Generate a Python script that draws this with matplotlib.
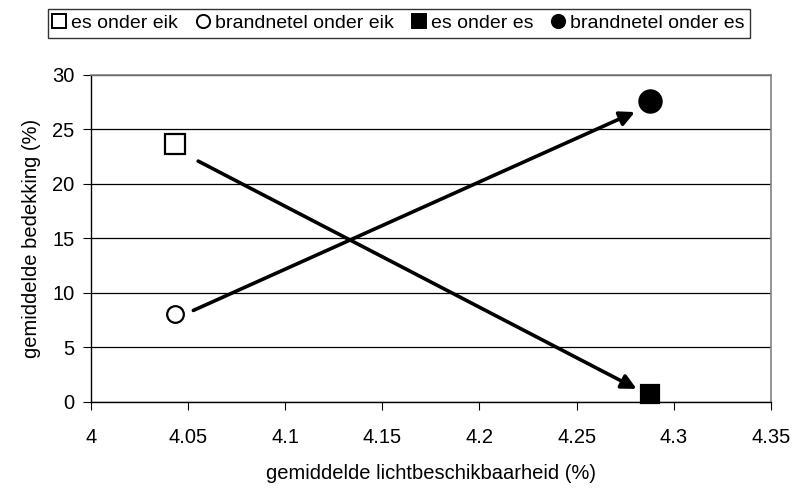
import matplotlib
matplotlib.use("Agg")
import matplotlib.pyplot as plt
from matplotlib.lines import Line2D
from matplotlib.ticker import FuncFormatter, MultipleLocator

plt.rcParams["font.family"] = ["Liberation Sans", "DejaVu Sans"]

# values
series_names = ["es onder eik", "brandnetel onder eik", "es onder es", "brandnetel onder es"]
light = [4.043, 4.043, 4.288, 4.288]
cover = [23.7, 8.1, 0.7, 27.6]
markers = ["s", "o", "s", "o"]
filled = [False, False, True, True]
marker_sizes = [15, 12, 13, 16]

# arrows: (x_start, y_start, x_end, y_end)
arrows = [
    (4.0552, 22.1, 4.2809, 1.2),
    (4.0527, 8.4, 4.2800, 26.6),
]

x_min, x_max, x_step = 4.0, 4.35, 0.05
y_min, y_max, y_step = 0, 30, 5

fig = plt.figure(figsize=(7.98, 4.93), dpi=100)
ax = fig.add_axes([0.114, 0.1846, 0.852, 0.6633])

handles = []
for name, x, y, m, f, ms in zip(series_names, light, cover, markers, filled, marker_sizes):
    face = "black" if f else "white"
    ax.plot([x], [y], linestyle="none", marker=m, markersize=ms,
            markerfacecolor=face, markeredgecolor="black", markeredgewidth=1.6,
            zorder=4, clip_on=False)
    # legend proxies all have the same small marker size
    handles.append(Line2D([], [], linestyle="none", marker=m, markersize=9.5,
                          markerfacecolor=face, markeredgecolor="black",
                          markeredgewidth=1.4, label=name))

for x0, y0, x1, y1 in arrows:
    ax.annotate("", xy=(x1, y1), xytext=(x0, y0),
                arrowprops=dict(arrowstyle="-|>", color="black", lw=2.6,
                                mutation_scale=22, shrinkA=0, shrinkB=0),
                zorder=3)

ax.set_xlim(x_min, x_max)
ax.set_ylim(y_min, y_max)
ax.xaxis.set_major_locator(MultipleLocator(x_step))
ax.yaxis.set_major_locator(MultipleLocator(y_step))
ax.xaxis.set_major_formatter(FuncFormatter(lambda v, p: f"{v:.2f}".rstrip("0").rstrip(".")))

ax.grid(axis="y", color="black", linewidth=0.9)
ax.set_axisbelow(True)

for side in ["top", "right"]:
    ax.spines[side].set_color("#808080")
    ax.spines[side].set_linewidth(1.2)
for side in ["left", "bottom"]:
    ax.spines[side].set_color("black")
    ax.spines[side].set_linewidth(1.0)

ax.tick_params(axis="x", direction="out", length=6, pad=13, labelsize=14.5)
ax.tick_params(axis="y", direction="out", length=6, pad=6, labelsize=14.5)

ax.set_xlabel("gemiddelde lichtbeschikbaarheid (%)", fontsize=14.5, labelpad=12)
ax.set_ylabel("gemiddelde bedekking (%)", fontsize=14.5, labelpad=8)

leg = fig.legend(handles=handles, loc="upper center", bbox_to_anchor=(0.5, 0.99),
                 ncol=4, fontsize=14, frameon=True, fancybox=False,
                 edgecolor="black", handlelength=0.6, handletextpad=0.3,
                 columnspacing=1.0, borderpad=0.3, borderaxespad=0.2)
leg.get_frame().set_linewidth(1.0)

fig.savefig("out.png", dpi=100)
